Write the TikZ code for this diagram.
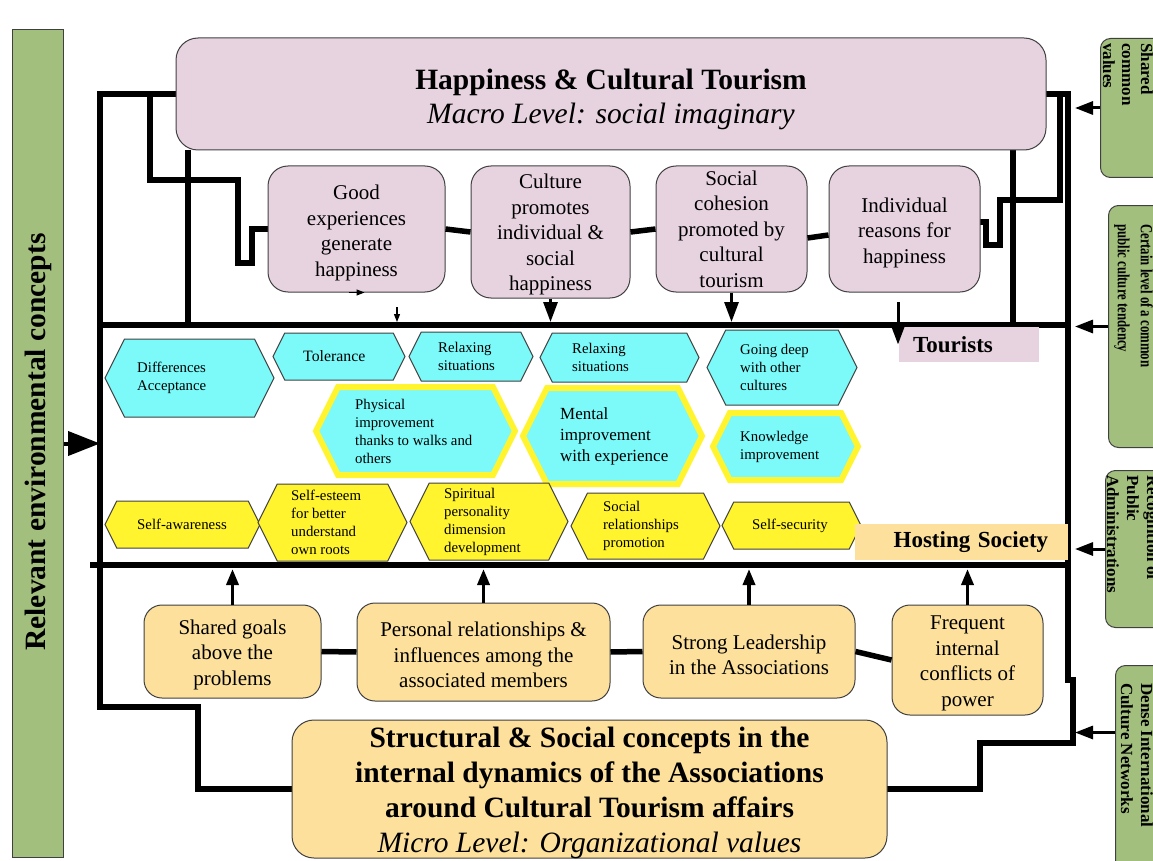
\documentclass[tikz,border=0pt]{standalone}
\usepackage{fontspec}
\setmainfont{Liberation Serif}
\newfontfamily\narrowserif[FakeStretch=0.75]{Liberation Serif}
\usetikzlibrary{arrows.meta}
\usetikzlibrary{calc}
\definecolor{pinkfill}{HTML}{E7D3DF}
\definecolor{greenfill}{HTML}{A2BF7E}
\definecolor{cyanfill}{HTML}{7CF9F9}
\definecolor{yellowfill}{HTML}{FFF42E}
\definecolor{orangefill}{HTML}{FCE09C}
\newcommand{\Hexa}[9]{
\pgfmathsetmacro{\HexMid}{(#4+#5)/2} % middle height
\pgfmathsetmacro{\HexDx}{0.25*(#5-#4)} % slant of the sides
\pgfmathsetmacro{\HexL}{#2+\HexDx} % left corners
\pgfmathsetmacro{\HexR}{#3-\HexDx} % right corners
\draw[#1] (#2,\HexMid) -- (\HexL,#4) -- (\HexR,#4) -- (#3,\HexMid) -- (\HexR,#5) -- (\HexL,#5) -- cycle;
\node[hextext, #8] (#6) at (#7,\HexMid) {#9};
}
\begin{document}
\begin{tikzpicture}[x=1pt, y=-1pt,
frame/.style={line width=6.5pt, line join=miter},
link/.style={line width=5.5pt},
pinkbox/.style={draw=black!75, line width=1pt, fill=pinkfill, rounded corners=20pt, align=center, inner sep=0pt, font=\fontsize{21}{25.5}\selectfont},
orangebox/.style={draw=black!75, line width=1pt, fill=orangefill, rounded corners=18pt, align=center, inner sep=0pt, font=\fontsize{21}{25.5}\selectfont},
greenbox/.style={draw=black!75, line width=1pt, fill=greenfill, rounded corners=10pt},
greentext/.style={rotate=-90, anchor=west, align=left, inner sep=0pt, font=\bfseries\fontsize{17}{19}\selectfont},
hexcyan/.style={draw=black!75, line width=1pt, fill=cyanfill},
hexring/.style={draw=yellowfill, line width=6pt, fill=cyanfill, line join=miter},
hexyellow/.style={draw=black!75, line width=1pt, fill=yellowfill},
hextext/.style={anchor=west, align=left, inner sep=0pt},
hexs/.style={font=\fontsize{14.8}{18}\selectfont},
hexm/.style={font=\fontsize{15.8}{19}\selectfont},
hexl/.style={font=\fontsize{17}{21}\selectfont},
levellabel/.style={inner sep=0pt, inner xsep=14pt, minimum height=35pt, font=\bfseries\fontsize{23}{27}\selectfont},
downarrow/.style={line width=3pt, -{Triangle[length=20pt,width=14pt]}},
uparrow/.style={line width=3.5pt, -{Triangle[length=16pt,width=12pt]}},
sidearrow/.style={line width=3pt, -{Triangle[length=18pt,width=13pt]}},
thinarrow/.style={line width=1.2pt, -{Triangle[length=8pt,width=6pt]}}]
\useasboundingbox (0,0) rectangle (1153,861);
%%%%%%%%%%%%%%%%%%%%%%% ENVIRONMENT %%%%%%%%%%%%%%%%%%%%%%%
\node[greenbox, rounded corners=0pt, minimum width=51pt, minimum height=827pt] (env) at (37.5,443.5) {};
\node[rotate=90, inner sep=0pt, font=\bfseries\fontsize{29.5}{34}\selectfont] (envtext) at (38,442) {Relevant environmental concepts};
\node[greenbox, anchor=north west, minimum width=100pt, minimum height=139pt] (shared) at (1100,38) {};
\node[greentext] (sharedtext) at (1128,43) {Shared\\common\\values};
\node[greenbox, anchor=north west, minimum width=100pt, minimum height=242pt] (certain) at (1108,205) {};
\node[greentext, font=\narrowserif\bfseries\fontsize{17}{23}\selectfont] (certaintext) at (1133.5,224) {Certain level of a common\\public culture tendency};
\node[greenbox, anchor=north west, minimum width=100pt, minimum height=157pt] (recog) at (1105,470) {};
\node[greentext, font=\bfseries\fontsize{17}{20}\selectfont] (recogtext) at (1133,475) {Recognition of\\Public\\Administrations};
\node[greenbox, anchor=north west, minimum width=100pt, minimum height=220pt] (dense) at (1115,665) {};
\node[greentext, font=\bfseries\fontsize{17}{20}\selectfont] (densetext) at (1137,683) {Dense International\\Culture Networks};
%%%%%%%%%%%%%%%%%%%%%%% FRAME %%%%%%%%%%%%%%%%%%%%%%%
\coordinate (TourL) at (100,325);
\coordinate (TourR) at (1068,325);
\coordinate (HostL) at (90,565);
\coordinate (HostR) at (1068,565);
\coordinate (DropL) at (188,150);
\coordinate (DropR) at (1013,150);
\coordinate (BranchL) at (150,94);
\coordinate (BranchR) at (1060,94);
\draw[frame] (176,94) -- (100,94) -- (100,707) -- (198,707) -- (198,789) -- (292,789);
\draw[frame] (BranchL) -- (150,180) -- (238,180) -- (238,263) -- (252,263) -- (252,229) -- (268,229);
\draw[frame] (1046,94) -- (1068,94) -- (1068,680) -- (1073,680) -- (1073,743) -- (980,743) -- (980,789) -- (887,789);
\draw[frame] (BranchR) -- (1060,200) -- (1000,200) -- (1000,245) -- (986,245) -- (986,222) -- (980,222);
\draw[frame] (DropL) -- (DropL |- TourL);
\draw[frame] (DropR) -- (DropR |- TourL);
\draw[frame] (TourL) -- (TourR);
%%%%%%%%%%%%%%%%%%%%%%% MACRO LEVEL %%%%%%%%%%%%%%%%%%%%%%%
\node[pinkbox, rounded corners=22pt, minimum width=870pt, minimum height=112pt, font=\fontsize{29.5}{34}\selectfont] (macro) at (611,94) {\rule{0pt}{32pt}\textbf{Happiness \& Cultural Tourism}\\\textit{Macro Level: social imaginary}};
\node[pinkbox, minimum width=177pt, minimum height=126pt] (good) at (356.5,229) {\rule{0pt}{22pt}Good\\experiences\\generate\\happiness};
\node[pinkbox, minimum width=159pt, minimum height=132pt] (culture) at (550.5,232) {\rule{0pt}{20pt}Culture\\promotes\\individual \&\\social\\happiness};
\node[pinkbox, minimum width=151pt, minimum height=126pt] (cohesion) at (731.5,229) {Social\\cohesion\\promoted by\\cultural\\tourism};
\node[pinkbox, minimum width=151pt, minimum height=126pt] (reasons) at (904.5,229) {\rule{0pt}{22pt}Individual\\reasons for\\happiness};
\draw[link] (good.east) -- (culture.west);
\draw[link] (culture.east) -- (cohesion.west);
\draw[link] ([yshift=-9pt]cohesion.east) -- ([yshift=-6pt]reasons.west);
%%%%%%%%%%%%%%%%%%%%%%% MICRO LEVEL %%%%%%%%%%%%%%%%%%%%%%%
\node[orangebox, minimum width=177pt, minimum height=93pt] (goals) at (232.5,651.5) {\rule{0pt}{21pt}Shared goals\\above the\\problems};
\node[orangebox, minimum width=253pt, minimum height=98pt] (personal) at (483.5,652) {\rule{0pt}{21pt}Personal relationships \&\\influences among the\\associated members};
\node[orangebox, minimum width=212pt, minimum height=93pt] (leader) at (749,651.5) {\rule{0pt}{21pt}Strong Leadership\\in the Associations};
\node[orangebox, minimum width=151pt, minimum height=110pt] (conflict) at (967.5,660) {\rule{0pt}{20pt}Frequent\\internal\\conflicts of\\power};
\node[orangebox, rounded corners=22pt, minimum width=595pt, minimum height=138pt, text height=132pt, text depth=6pt, font=\fontsize{29.5}{35}\selectfont] (micro) at (589.5,789) {\textbf{Structural \& Social concepts in the}\\\textbf{internal dynamics of the Associations}\\\textbf{around Cultural Tourism affairs}\\\textit{Micro Level: Organizational values}};
\draw[link] (goals.east) -- (personal.west);
\draw[link] (personal.east) -- (leader.west);
\draw[link] (leader.east) -- (conflict.west);
%%%%%%%%%%%%%%%%%%%%%%% VALUES %%%%%%%%%%%%%%%%%%%%%%%
\Hexa{hexcyan}{105}{274}{339}{417}{diffacc}{137}{hexs}{Differences\\Acceptance}
\Hexa{hexcyan}{273}{405}{333}{380}{tolerance}{303}{hexm}{Tolerance}
\Hexa{hexcyan}{409}{533}{332}{381}{relaxA}{438}{hexs}{Relaxing\\situations}
\Hexa{hexcyan}{540}{699}{333}{382}{relaxB}{572}{hexs}{Relaxing\\situations}
\Hexa{hexcyan}{707}{857}{330}{405}{goingdeep}{740}{hexs}{Going deep\\with other\\cultures}
\Hexa{hexring}{316}{515}{387}{475}{physical}{355}{hexs}{Physical\\improvement\\thanks to walks and\\others}
\Hexa{hexring}{523}{702}{388}{484}{mental}{560}{hexl}{Mental\\improvement\\with experience}
\Hexa{hexring}{713}{858}{413}{480}{knowledge}{740}{hexs}{Knowledge\\improvement}
\Hexa{hexyellow}{105}{260}{501}{548}{selfaware}{137}{hexs}{Self-awareness}
\Hexa{hexyellow}{258}{407}{484}{561}{selfesteem}{291}{hexs}{Self-esteem\\for better\\understand\\own roots}
\Hexa{hexyellow}{410}{568}{483}{560}{spiritual}{444}{hexs}{Spiritual\\personality\\dimension\\development}
\Hexa{hexyellow}{571}{720}{493}{559}{socialrel}{603}{hexs}{Social\\relationships\\promotion}
\Hexa{hexyellow}{722}{861}{502}{549}{selfsec}{752}{hexs}{Self-security}
%%%%%%%%%%%%%%%%%%%%%%% LABELS %%%%%%%%%%%%%%%%%%%%%%%
\node[levellabel, fill=pinkfill, anchor=west, text width=112pt] (tourists) at (899,344.5) {Tourists};
\node[levellabel, fill=orangefill, anchor=west, inner xsep=20pt, text width=173pt, align=right, minimum height=36pt] (hosting) at (855,542) {Hosting Society};
\draw[frame] (HostL) -- (HostR);
%%%%%%%%%%%%%%%%%%%%%%% ARROWS %%%%%%%%%%%%%%%%%%%%%%%
\coordinate (ts) at (0,322);
\coordinate (hs) at (0,569);
\coordinate (RightTip) at (1075,0);
\coordinate (thinA) at (397,307);
\coordinate (tourA) at (898,302);
\draw[thinarrow] ([xshift=-8pt]good.south) -- ([xshift=8pt]good.south);
\draw[thinarrow] (thinA) -- (thinA |- ts);
\draw[downarrow] (culture.south) -- (culture.south |- ts);
\draw[downarrow] (cohesion.south) -- (cohesion.south |- ts);
\draw[downarrow] (tourA) -- (tourA |- tourists.west);
\draw[uparrow] (goals.north) -- (goals.north |- hs);
\draw[uparrow] (personal.north) -- (personal.north |- hs);
\draw[uparrow] (leader.north) -- (leader.north |- hs);
\draw[uparrow] (conflict.north) -- (conflict.north |- hs);
\draw[line width=4pt, -{Triangle[length=32pt,width=24pt]}] (env.east) -- (env.east -| TourL);
\draw[sidearrow] (shared.west) -- (shared.west -| RightTip);
\draw[sidearrow] (certain.west) -- (certain.west -| RightTip);
\draw[sidearrow] (recog.west) -- (recog.west -| RightTip);
\draw[sidearrow] ([yshift=43pt]dense.west) -- ([yshift=43pt]dense.west -| RightTip);
\end{tikzpicture}
\end{document}
